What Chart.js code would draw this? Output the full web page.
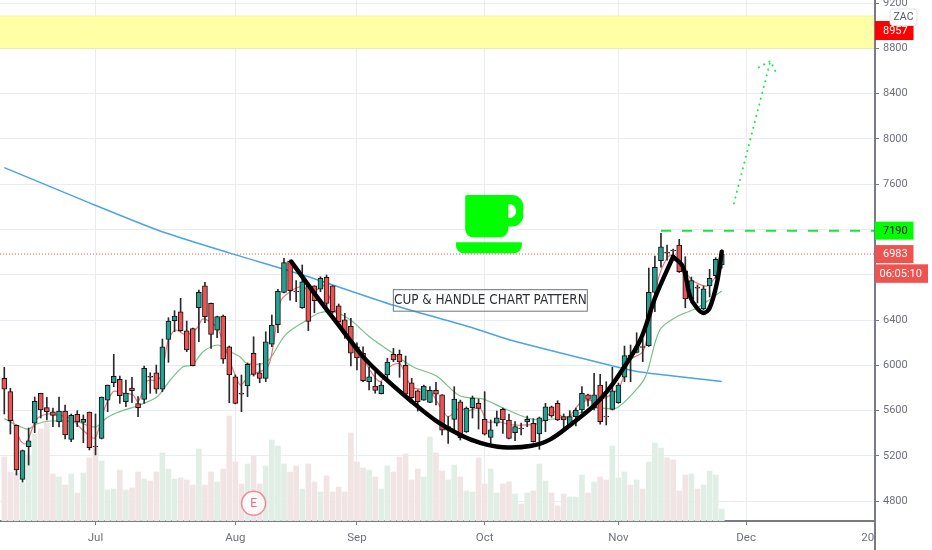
<!DOCTYPE html>
<html><head><meta charset="utf-8">
<style>html,body{margin:0;padding:0;background:#fff}canvas{display:block;filter:blur(.3px)}</style>
<script src="https://cdn.jsdelivr.net/npm/chart.js@4"></script>
</head><body><canvas id="c" width="932" height="550"></canvas>
<script>
const opens=[5886,5768,5471,4994,5282,5489,5754,5627,5591,5500,
5597,5347,5568,5497,5588,5288,5356,5692,5847,5877,
5679,5800,5662,5700,5904,5935,5789,6230,6394,6474,
6306,6324,6509,6703,6548,6312,6436,6165,5900,5756,
5818,6107,5935,5886,6188,6359,6645,6922,6657,6509,
6701,6703,6672,6778,6703,6527,6403,6345,6165,6107,
5856,5818,5750,5915,6098,6098,6001,5847,5776,5694,
5674,5780,5739,5427,5524,5679,5412,5627,5665,5524,
5365,5489,5612,5518,5406,5447,5500,5489,5394,5512,
5635,5665,5547,5474,5547,5606,5739,5627,5827,5550,
5612,5670,5895,6092,6115,6167,6174,6645,6924,7001,
7019,7063,6836,6586,6692,6498,6701,6792,6887];
const highs=[5983,5798,5474,5253,5447,5721,5754,5718,5624,5721,
5650,5571,5600,5562,5588,5571,5721,5827,6098,5906,
5871,5895,5724,5995,5935,6003,6233,6421,6483,6592,
6392,6330,6665,6733,6551,6436,6445,6171,5915,5915,
6021,6253,6018,6297,6445,6672,6945,6931,6748,6887,
6727,6703,6783,6798,6703,6542,6460,6415,6200,6165,
5988,5944,5856,6063,6150,6136,6083,5886,5783,5827,
5812,5851,5743,5547,5812,5694,5633,5730,5703,5768,
5518,5597,5624,5571,5503,5491,5553,5530,5544,5665,
5641,5688,5571,5600,5624,5812,5747,5930,5921,5856,
5983,5844,6171,6180,6288,6233,6860,6966,7166,7063,
7027,7113,6960,6780,6710,6701,6848,6951,7019];
const lows=[5571,5394,5032,4970,5120,5406,5535,5518,5459,5456,
5350,5326,5459,5317,5253,5209,5350,5591,5812,5665,
5635,5670,5547,5665,5754,5754,5768,6027,6297,6300,
6121,5995,6209,6377,6150,6244,6018,5670,5660,5591,
5724,5906,5847,5856,6165,6288,6640,6577,6562,6503,
6306,6465,6650,6474,6460,6365,6239,5995,5959,5856,
5783,5754,5747,5886,6033,5895,5739,5694,5597,5690,
5670,5650,5385,5312,5430,5341,5408,5535,5438,5385,
5312,5465,5400,5350,5335,5385,5459,5323,5259,5415,
5542,5513,5423,5470,5465,5580,5641,5606,5482,5474,
5606,5665,5856,5856,6110,6033,6167,6474,6868,6930,
6930,6820,6509,6551,6551,6490,6604,6769,6860];
const closes=[5789,5512,5076,5247,5335,5683,5606,5591,5559,5597,
5385,5559,5500,5524,5273,5280,5721,5827,5904,5732,
5756,5776,5627,5975,5895,5789,6165,6392,6436,6306,
6136,5997,6645,6430,6274,6430,6056,5915,5665,5747,
6010,5921,5886,6209,6356,6654,6907,6660,6648,6739,
6389,6571,6769,6548,6474,6385,6292,6107,6067,5865,
5900,5780,5827,6030,6048,6030,5747,5715,5679,5818,
5780,5745,5427,5459,5703,5362,5624,5712,5621,5392,
5430,5538,5518,5356,5459,5438,5524,5326,5538,5635,
5553,5518,5518,5547,5606,5754,5700,5739,5503,5544,
5776,5827,6086,6065,6165,6158,6645,6866,7048,6992,
7010,6827,6586,6748,6683,6675,6769,6937,6983];
const volumes=[64,49,48,38,65,87,92,98,47,44,36,47,28,48,63,73,60,31,32,51,31,33,49,42,40,49,68,52,42,43,41,36,72,36,49,39,52,105,59,
37,57,65,37,55,81,75,57,49,55,32,57,39,29,45,29,34,29,88,59,53,51,44,32,55,49,64,67,41,52,44,84,68,50,41,56,44,30,
29,63,37,52,28,37,39,27,17,28,30,57,40,28,15,27,24,24,46,28,39,44,41,75,43,49,36,41,32,59,78,73,63,61,30,46,47,32,36,50,46,12];

const longMaX=[0,14.1,25.6,37.1,49.1,63.9,76.6,83.2,100.1,104.6,114.4,118];
const longMaY=[7747,7433,7187,6992,6798,6533,6339,6224,5995,5942,5880,5858];
const midMaX=[0,2,3.9,5.3,7.5,12,15,16.8,18.5,21.9,25.1,27.3,29.4,30.9,32.7,35.1,36.6,38.8,39.9,43.2,46.2,49.5,51.9,54.7,57.1,60.1,62.9,67.2,71.1,74.9,78.7,82,85.9,88.6,93,97.4,100.7,104.6,105.7,107.8,110.6,113.9,118];
const midMaY=[5530,5474,5438,5482,5509,5500,5456,5535,5582,5644,5721,5871,5988,6003,6121,6180,6136,6074,6018,6033,6268,6392,6465,6465,6394,6251,6145,5988,5906,5732,5703,5624,5538,5518,5553,5624,5624,5827,5933,6312,6430,6507,6657];
const fastMaX=[0.9,1.4,2.6,3.4,3.9,4.7,5.5,7,8.6,10.8,12.9,14.9,16.2,17.9,19.5,21.2,22,23.5,25.1,25.9,26.9,28.1,30,31.7,32.7,35,36.6,38.3,38.9,40.4,43.2,44.2,45.4,47,49,50.8,52.4,54,56,58,59.8,61.8,63.4,65.1,67,70,71.7,73,74.9,76.1,78.2,79.4,81,83.7,86,88.1,90.2,92.5,95,97.9,100.8,101.8,102.9,105,106.2,107.5,109,110,111.5,113.1,115.6,117.2,118];
const fastMaY=[5624,5518,5341,5306,5341,5456,5535,5571,5562,5535,5430,5359,5580,5768,5756,5739,5679,5862,5871,5915,6209,6312,6268,6330,6410,6330,6110,5871,5827,5915,5977,6165,6562,6650,6695,6639,6710,6533,6312,6165,5988,5856,5988,6012,5812,5768,5635,5547,5624,5597,5624,5503,5503,5474,5474,5491,5591,5535,5679,5694,5783,5889,6048,6121,6375,6754,6948,6975,6872,6754,6701,6798,6860];

const cupX=[47.2,51.4,54.7,59,62.3,66.7,71.2,75,78.3,82,86.5,89.8,93.5,96.8,99.1,101.3,104.6,107.1,110];
const cupY=[6916,6607,6375,6077,5900,5694,5503,5385,5315,5277,5288,5347,5491,5635,5768,5933,6224,6607,6960];
const handleX=[110,111.6,112.8,113.9,115,116,117.2,118];
const handleY=[6960,6872,6607,6507,6463,6507,6727,7004];
const arrowX=[120,126];
const arrowY=[7431,8688];
const arrowHeadX=[124.1,126,127];
const arrowHeadY=[8632,8688,8579];

const xTicks=[15,38,58,79,101,122,142];
const xLabels=['Jul','Aug','Sep','Oct','Nov','Dec','20'];
const yTicks=[4800,5200,5600,6000,6400,6800,7200,7600,8000,8400,8800,9200];
const zoneTop=9085, zoneBottom=8802, breakout=7190, lastPrice=6983, targetTag=8957;
const xMin=-0.707, xMax=143.2, yMin=4626, yMax=9226.5;
const GREEN='#00ff00', UP='#26a08f', DOWN='#ec5352';
const AXIS_FONT='Roboto';

const pts=(xs,ys)=>xs.map((x,i)=>({x,y:ys[i]}));
const idx=opens.map((_,i)=>i);
const line=(data,color,width,order,extra)=>Object.assign({type:'line',data,borderColor:color,borderWidth:width,pointRadius:0,tension:0,order,fill:false},extra||{});

const overlay={id:'overlay',afterDraw(chart){
  const c=chart.ctx,X=chart.scales.x,Y=chart.scales.y;
  const tag=(x,yc,w,h,bg,fg,t,pad)=>{c.fillStyle=bg;c.fillRect(x,yc-h/2,w,h);c.fillStyle=fg;c.textAlign='left';c.textBaseline='middle';c.font='11px '+AXIS_FONT;c.fillText(t,x+pad,yc+.5);};
  // cup icon
  const cx=X.getPixelForValue(75.8),cy=Y.getPixelForValue(7504);
  c.fillStyle=GREEN;
  c.beginPath();c.roundRect(cx+30,cy,28,31.5,[0,11,11,0]);c.roundRect(cx+43,cy+9,8,14,[0,7,7,0]);c.fill('evenodd');
  c.beginPath();c.roundRect(cx,cy,43,42.3,[2,0,8,8]);c.fill();
  c.beginPath();c.roundRect(cx-9.3,cy+47.3,66,11,[1,1,8,8]);c.fill();
  // pattern label
  const bx=X.getPixelForValue(63.9),by=Y.getPixelForValue(6673);
  c.strokeStyle='#70737c';c.lineWidth=1;c.strokeRect(bx+.5,by+.5,194,21.5);
  c.fillStyle='#2f3138';c.font='13.4px "DejaVu Sans Condensed"';c.textAlign='center';c.textBaseline='middle';
  c.fillText('CUP & HANDLE CHART PATTERN',bx+97.5,by+11.5);
  // earnings badge
  const ex=X.getPixelForValue(41),ey=Y.getPixelForValue(4782);
  c.beginPath();c.arc(ex,ey,12,0,Math.PI*2);c.fillStyle='rgba(255,255,255,.75)';c.fill();c.strokeStyle='#ee8a9c';c.lineWidth=1.5;c.stroke();
  c.fillStyle='#e0708a';c.font='12px Roboto';c.textAlign='center';c.textBaseline='middle';c.fillText('E',ex,ey+.5);
  // axis frame extension
  const a=chart.chartArea;
  c.strokeStyle='#787b86';c.lineWidth=2;c.beginPath();c.moveTo(a.right,0);c.lineTo(a.right,550);c.stroke();
  // price tags
  tag(a.right,Y.getPixelForValue(targetTag),38.5,19,'#ff0000','#ffffff',String(targetTag),8);
  tag(a.right,Y.getPixelForValue(breakout),38.5,18,GREEN,'#111111',String(breakout),8);
  tag(a.right,Y.getPixelForValue(lastPrice),38.5,18,'#ef5350','#ffffff',String(lastPrice),8);
  tag(a.right,Y.getPixelForValue(lastPrice)+19.5,53,18.5,'#ef5350','#ffffff','06:05:10',4.5);
  // ZAC badge
  c.beginPath();c.roundRect(a.right+15,9,27,16.5,3);c.fillStyle='#fff';c.fill();c.strokeStyle='#e0e3eb';c.lineWidth=1;c.stroke();
  c.fillStyle='#555a66';c.font='10.5px '+AXIS_FONT;c.textAlign='center';c.textBaseline='middle';c.fillText('ZAC',a.right+28.5,17.5);
}};

new Chart(document.getElementById('c'),{
  type:'bar',
  plugins:[overlay],
  data:{datasets:[
    line(pts(cupX,cupY),'#000000',4.4,0,{tension:.35,borderCapStyle:'round'}),
    line(pts(handleX,handleY),'#000000',4.4,0,{tension:.35,borderCapStyle:'round'}),
    line(pts(arrowX,arrowY),'#14e83a',2,1,{borderDash:[0.1,5.9],borderCapStyle:'round'}),
    line(pts(arrowHeadX,arrowHeadY),'#14e83a',2,1,{borderDash:[0.1,5.9],borderCapStyle:'round'}),
    line(pts([108,xMax],[breakout,breakout]),'#14e83a',2,1,{borderDash:[10,11]}),
    {type:'bar',data:idx.map(i=>({x:i,y:[opens[i],closes[i]]})),barThickness:5,borderWidth:1,borderColor:'#111',borderSkipped:false,
      backgroundColor:idx.map(i=>closes[i]>=opens[i]?UP:DOWN),order:3},
    {type:'bar',data:idx.map(i=>({x:i,y:[lows[i],highs[i]]})),barThickness:1,backgroundColor:'#2a2a2a',borderWidth:0,order:4},
    line(pts(fastMaX,fastMaY),'#e7787f',1.2,5,{tension:.3}),
    line(pts(midMaX,midMaY),'#78c088',1.2,5,{tension:.3}),
    line(pts(longMaX,longMaY),'#4aa3e6',1.4,5,{tension:.2}),
    line(pts([xMin,xMax],[lastPrice,lastPrice]),'#e8584f',1,6,{borderDash:[1,2]}),
    {type:'bar',yAxisID:'yv',data:idx.map(i=>({x:i,y:volumes[i]})),barThickness:5,borderWidth:0,
      backgroundColor:idx.map(i=>closes[i]>=opens[i]?'#e0eee6':'#f1e4e4'),order:7},
    line(pts([xMin,xMax],[zoneTop,zoneTop]),'#f2f2a0',1,8,{fill:{value:zoneBottom},backgroundColor:'#ffffa6'}),
    line(pts([xMin,xMax],[zoneBottom,zoneBottom]),'#e9e99a',1,8)
  ]},
  options:{
    responsive:false,animation:false,
    layout:{padding:0,autoPadding:false},
    datasets:{bar:{grouped:false}},
    plugins:{legend:{display:false},tooltip:{enabled:false},title:{display:false}},
    scales:{
      x:{type:'linear',min:xMin,max:xMax,offset:false,
        grid:{offset:false,tickLength:4,lineWidth:1,
          color:c=>c.index===xTicks.length-1?'rgba(0,0,0,0)':'#e9ecf2',
          tickColor:c=>c.index===xTicks.length-1?'rgba(0,0,0,0)':'#787b86'},
        border:{color:'#787b86',width:2},
        afterBuildTicks:s=>{s.ticks=xTicks.map(value=>({value}));},
        afterFit:s=>{s.height=29;s.paddingLeft=0;s.paddingRight=0;},
        ticks:{autoSkip:false,maxRotation:0,minRotation:0,padding:6,color:'#6f727c',font:{family:AXIS_FONT,size:11.5},
          callback:v=>xLabels[xTicks.indexOf(v)]}},
      y:{type:'linear',position:'right',min:yMin,max:yMax,
        grid:{tickLength:4,color:'#e9ecf2',tickColor:'#787b86'},
        border:{color:'#787b86',width:2},
        afterBuildTicks:s=>{s.ticks=yTicks.map(value=>({value}));},
        afterFit:s=>{s.width=57;s.paddingTop=0;s.paddingBottom=0;},
        ticks:{autoSkip:false,padding:4,color:'#6f727c',font:{family:AXIS_FONT,size:11},callback:v=>String(v)}},
      yv:{type:'linear',display:false,position:'right',min:0,max:521,grid:{display:false}}
    }
  }
});
</script></body></html>
